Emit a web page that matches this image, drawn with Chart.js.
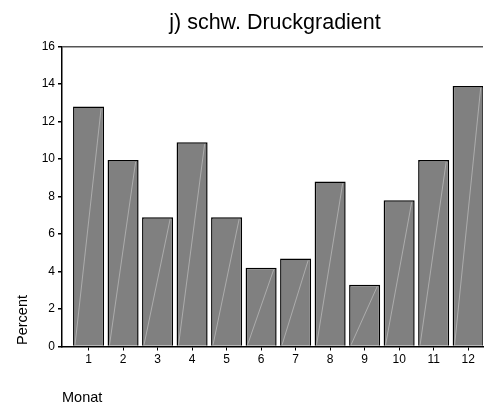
<!DOCTYPE html>
<html>
<head>
<meta charset="utf-8">
<script src="https://cdn.jsdelivr.net/npm/chart.js@4"></script>
<style>
  html, body { margin: 0; padding: 0; background: #fff; }
  #wrap { width: 488px; height: 408px; position: relative; }
</style>
</head>
<body>
<div id="wrap"><canvas id="myChart"></canvas></div>
<script>
const chartTitle = 'j) schw. Druckgradient';
const months = [1, 2, 3, 4, 5, 6, 7, 8, 9, 10, 11, 12];
const percent = [12.8, 9.95, 6.9, 10.9, 6.9, 4.2, 4.7, 8.8, 3.3, 7.8, 9.95, 13.9];
const yTicks = [0, 2, 4, 6, 8, 10, 12, 14, 16];

const FONT = '"Liberation Sans", Arial, sans-serif';

// texts placed like the original print (title over plot, axis names bottom-left)
const textPlugin = {
    id: 'texts',
    afterDraw(chart) {
        const c = chart.ctx;
        const a = chart.chartArea;
        c.save();
        c.fillStyle = '#000';
        c.textBaseline = 'alphabetic';
        c.textAlign = 'center';
        c.font = '21.5px ' + FONT;
        c.fillText(chartTitle, (a.left + 488) / 2, 29);
        c.textAlign = 'left';
        c.font = '14.5px ' + FONT;
        c.fillText('Monat', 62, 402);
        c.translate(27, 320);
        c.rotate(-Math.PI / 2);
        c.textAlign = 'center';
        c.fillText('Percent', 0, 0);
        c.restore();
    }
};

// faint diagonal streak seen in every bar
const streakPlugin = {
    id: 'streak',
    afterDatasetsDraw(chart) {
        const c = chart.ctx;
        const meta = chart.getDatasetMeta(0);
        c.save();
        c.strokeStyle = 'rgba(255,255,255,0.35)';
        c.lineWidth = 1;
        meta.data.forEach(function (bar) {
            const w = bar.width;
            c.beginPath();
            c.moveTo(bar.x - w / 2 + 2, bar.base - 1);
            c.lineTo(bar.x + w / 2 - 3, bar.y + 2);
            c.stroke();
        });
        c.restore();
    }
};

const ctx = document.getElementById('myChart').getContext('2d');
const myChart = new Chart(ctx, {
    type: 'bar',
    data: {
        datasets: [{
            label: 'Percent',
            data: months.map((m, i) => ({ x: m, y: percent[i] })),
            backgroundColor: '#808080',
            borderColor: '#000',
            borderWidth: 1.5,
            barPercentage: 0.9,
            categoryPercentage: 1
        }]
    },
    options: {
        responsive: true,
        maintainAspectRatio: false,
        animation: false,
        layout: { padding: { top: 46.5, right: 5, left: 0, bottom: 0 } },
        plugins: { legend: { display: false }, title: { display: false }, tooltip: { enabled: false } },
        scales: {
            x: {
                type: 'linear',
                offset: false,
                min: 0.23,
                max: 12.43,
                afterFit: s => { s.height = 61.5; },
                afterBuildTicks: s => { s.ticks = months.map(v => ({ value: v })); },
                border: { color: '#000', width: 1.5 },
                grid: { drawOnChartArea: false, color: '#000', tickLength: 4, offset: false },
                ticks: { color: '#000', font: { family: FONT, size: 12 }, padding: 2, maxRotation: 0 }
            },
            y: {
                min: 0,
                max: 16,
                afterFit: s => { s.width = 62; },
                afterBuildTicks: s => { s.ticks = yTicks.map(v => ({ value: v })); },
                border: { color: '#000', width: 1.5 },
                grid: {
                    color: c => (c.tick && c.tick.value === 16 ? '#555' : 'rgba(0,0,0,0)'),
                    lineWidth: 1.5,
                    tickColor: '#000',
                    tickLength: 4
                },
                ticks: { color: '#000', font: { family: FONT, size: 12 }, padding: 3 }
            }
        }
    },
    plugins: [textPlugin, streakPlugin]
});
</script>
</body>
</html>
